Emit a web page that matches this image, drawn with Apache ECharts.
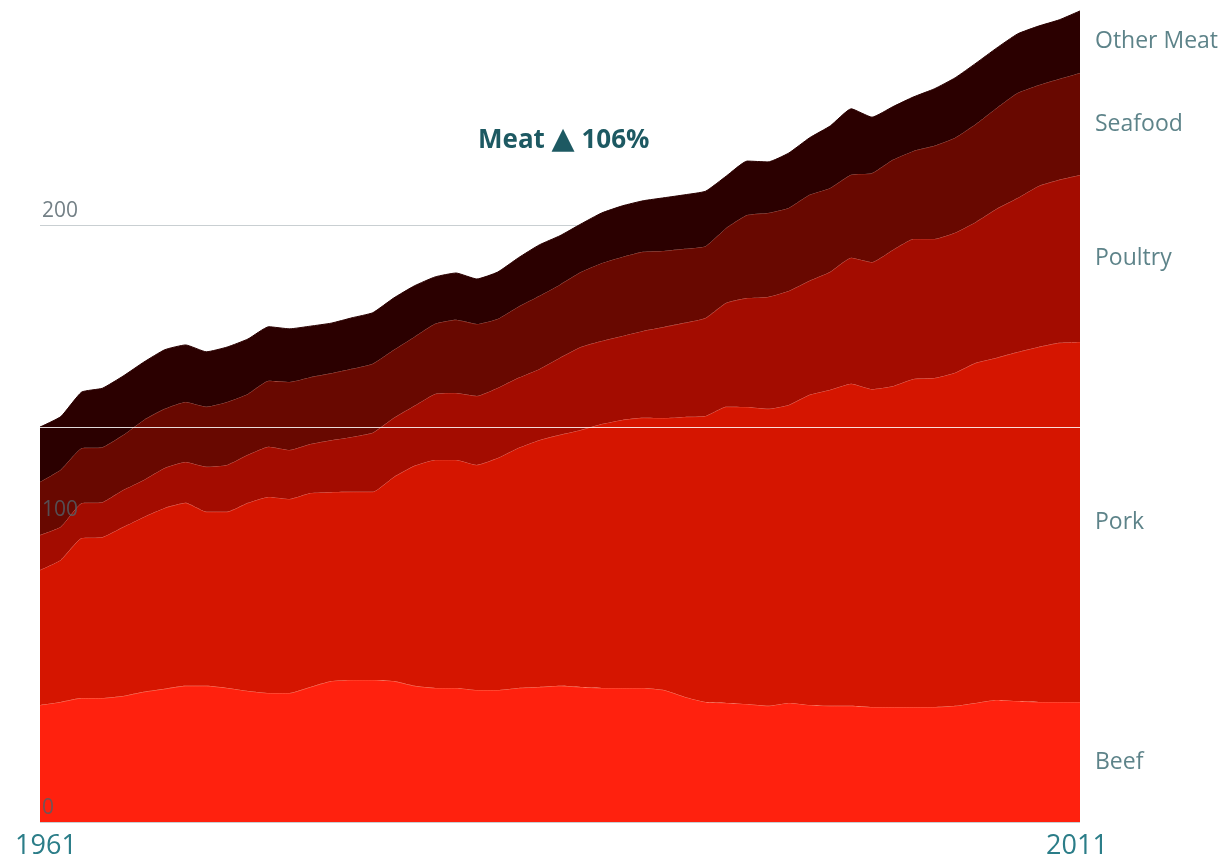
<!DOCTYPE html>
<html>
<head>
<meta charset="utf-8">
<script src="https://cdn.jsdelivr.net/npm/echarts@6/dist/echarts.min.js"></script>
<style>
html,body{margin:0;padding:0;background:#fff;}
#chart{width:1222px;height:861px;}
</style>
</head>
<body>
<div id="chart"></div>
<script>
const years = ['1961','1962','1963','1964','1965','1966','1967','1968','1969','1970',
  '1971','1972','1973','1974','1975','1976','1977','1978','1979','1980',
  '1981','1982','1983','1984','1985','1986','1987','1988','1989','1990',
  '1991','1992','1993','1994','1995','1996','1997','1998','1999','2000',
  '2001','2002','2003','2004','2005','2006','2007','2008','2009','2010','2011'];

const beef = [39.2,40.2,41.5,41.5,42.2,43.6,44.6,45.6,45.6,44.9,
  43.9,43.2,43.2,45.2,47.2,47.6,47.6,47.2,45.6,44.9,
  44.9,44.2,44.2,44.9,45.2,45.6,45.2,44.9,44.9,44.9,
  44.2,41.9,40.2,39.9,39.5,38.9,39.9,39.2,38.9,38.9,
  38.5,38.5,38.5,38.5,38.9,39.9,40.9,40.5,40.2,40.2,40.2];
const pork = [45.2,47.6,53.6,53.9,56.6,58.6,60.6,61.3,58.3,59.0,
  63.0,65.7,65.0,65.0,63.3,63.0,63.0,68.3,73.7,76.4,
  76.4,75.4,77.7,80.4,82.7,84.1,86.1,88.4,89.8,90.5,
  91.1,93.8,95.8,99.2,99.5,99.5,99.8,103.9,105.9,107.9,
  106.5,107.5,109.9,110.2,111.6,113.9,114.6,116.9,118.9,120.3,120.6];
const poultry = [11.7,11.1,11.7,11.7,12.4,12.4,13.4,13.7,15.1,15.7,
  16.1,16.8,16.4,16.4,17.4,18.4,19.8,19.8,20.1,22.1,
  22.4,23.1,23.5,23.5,23.8,25.8,27.8,27.8,28.1,29.1,
  30.5,31.5,32.8,34.8,36.5,37.5,38.2,38.2,39.5,42.2,
  42.5,45.6,46.9,46.6,46.9,47.2,49.9,51.6,53.9,54.6,55.9];
const seafood = [17.8,19.1,18.4,18.4,18.4,20.1,19.8,20.1,20.1,21.1,
  20.4,22.1,22.8,22.4,22.4,22.8,23.1,22.8,23.1,23.5,
  24.5,24.1,23.1,23.8,24.5,24.5,25.1,26.1,26.5,26.5,
  25.5,24.8,24.1,25.1,27.8,28.1,27.8,28.8,28.1,27.8,
  29.8,30.2,29.5,31.2,31.8,32.8,33.8,35.2,33.8,33.8,34.2];
const otherMeat = [18.4,17.8,18.8,19.8,19.8,19.4,19.8,19.1,18.4,18.4,
  18.4,18.1,17.8,17.1,16.8,17.1,17.1,17.4,17.1,15.7,
  15.7,15.1,15.7,16.4,17.1,16.4,16.1,16.8,17.1,17.1,
  17.8,18.1,18.4,17.4,18.1,17.1,18.4,19.1,20.8,22.1,
  18.8,17.8,18.1,19.1,20.1,20.4,20.1,19.8,19.8,19.8,20.8];

const seriesNames = ['Beef','Pork','Poultry','Seafood','Other Meat'];
const seriesData = [beef, pork, poultry, seafood, otherMeat];
const seriesColors = ['#ff210e','#d51500','#a30c00','#680800','#2b0000'];
const edgeColors = ['rgba(255,150,120,0.6)','rgba(255,120,100,0.55)','rgba(230,100,80,0.55)','rgba(190,80,60,0.55)','#2b0000'];
const titleParts = ['Meat', '\u25B2', '106%'];

const firstTotal = seriesData.reduce((s, arr) => s + arr[0], 0);
const lastIdx = years.length - 1;

const areaSeries = seriesNames.map((name, k) => ({
  name: name,
  type: 'line',
  stack: 'meat',
  data: seriesData[k],
  smooth: 0.15,
  symbol: 'none',
  lineStyle: { width: 1, color: edgeColors[k] },
  areaStyle: { color: seriesColors[k], opacity: 1 },
  itemStyle: { color: seriesColors[k] },
  emphasis: { disabled: true },
  z: 2 + k
}));

// side labels at the middle of each layer in the last year
let cum = 0;
const labelPoints = seriesNames.map((name, k) => {
  const v = seriesData[k][lastIdx];
  const mid = cum + v / 2;
  cum += v;
  return { name: name, value: [years[lastIdx], mid] };
});

const titleFont = { fontFamily: 'Open Sans, sans-serif', fontWeight: 'bold', fontSize: 26, color: '#1d5962' };

const option = {
  animation: false,
  backgroundColor: '#ffffff',
  title: {
    text: '{t|' + titleParts[0] + ' }{tri|' + titleParts[1] + '}{t| ' + titleParts[2] + '}',
    left: 473,
    top: 120,
    textStyle: {
      rich: {
        t: Object.assign({}, titleFont),
        tri: { fontFamily: 'DejaVu Sans, sans-serif', fontSize: 30, color: '#1d5962', padding: [0, 0, 2, 0] }
      }
    }
  },
  grid: { left: 40, right: 142, top: 10, bottom: 39, containLabel: false },
  xAxis: {
    type: 'category',
    data: years,
    boundaryGap: false,
    axisLine: { show: false },
    axisTick: { show: false },
    splitLine: { show: false },
    axisLabel: {
      interval: (i) => i === 0 || i === lastIdx,
      formatter: (v, i) => i === 0 ? '{first|' + v + '}' : '{last|' + v + '}',
      margin: 11,
      rich: {
        first: { fontFamily: 'Open Sans, sans-serif', fontSize: 27, color: '#2b7d88', padding: [0, 0, 0, 12] },
        last: { fontFamily: 'Open Sans, sans-serif', fontSize: 27, color: '#2b7d88', padding: [0, 6, 0, 0] }
      }
    }
  },
  yAxis: [{
    type: 'value',
    min: 0,
    max: 272,
    interval: 100,
    axisLine: { show: false },
    axisTick: { show: false },
    axisLabel: { show: false },
    splitLine: { show: true, lineStyle: { color: ['#c9cfd2', '#c9cfd2', '#c9cfd2', 'rgba(0,0,0,0)'], width: 1 } }
  }, {
    type: 'value',
    min: 0,
    max: 272,
    interval: 100,
    position: 'left',
    z: 20,
    axisLine: { show: false },
    axisTick: { show: false },
    splitLine: { show: false },
    axisLabel: {
      inside: true,
      margin: 2,
      showMaxLabel: false,
      verticalAlign: 'bottom',
      padding: [0, 0, 3, 0],
      fontFamily: 'Open Sans, sans-serif',
      fontSize: 21,
      color: 'rgba(80,96,104,0.8)'
    }
  }],
  series: areaSeries.concat([{
    name: 'labels',
    type: 'scatter',
    data: labelPoints,
    symbolSize: 0,
    clip: false,
    silent: true,
    z: 10,
    label: {
      show: true,
      position: 'right',
      distance: 15,
      formatter: (p) => p.name,
      fontFamily: 'Open Sans, sans-serif',
      fontSize: 23,
      color: '#35646c'
    },
    markLine: {
      silent: true,
      z: 20,
      symbol: 'none',
      label: { show: false },
      lineStyle: { color: 'rgba(255,255,255,0.85)', width: 1, type: 'solid' },
      data: [{ yAxis: firstTotal }]
    }
  }])
};

const chart = echarts.init(document.getElementById('chart'), null, { renderer: 'canvas' });
chart.setOption(option);
</script>
</body>
</html>
